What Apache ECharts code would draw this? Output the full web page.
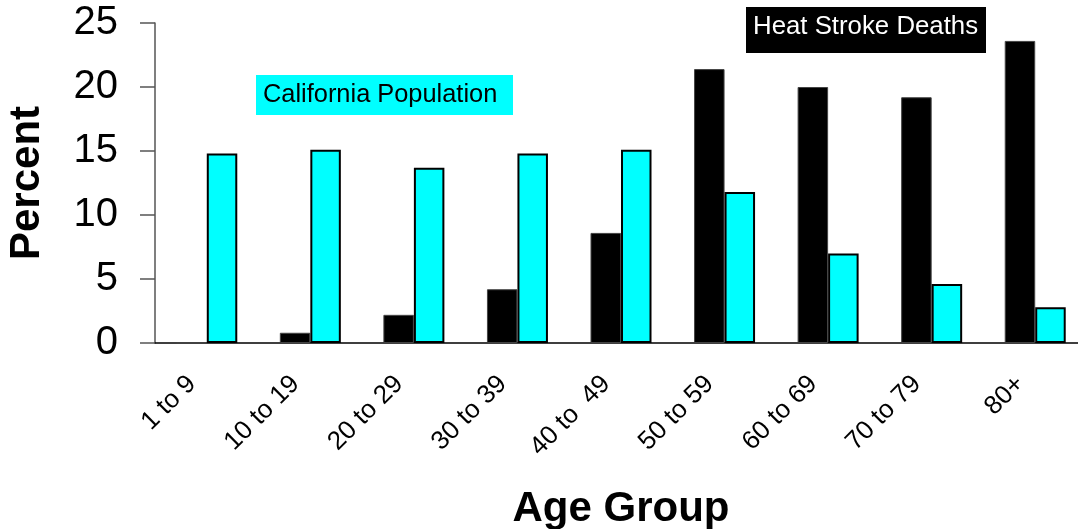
<!DOCTYPE html>
<html>
<head>
<meta charset="utf-8">
<script src="https://cdn.jsdelivr.net/npm/echarts@6/dist/echarts.min.js"></script>
<style>
  html, body { margin: 0; padding: 0; background: #fff; }
  #main { width: 1078px; height: 529px; }
</style>
</head>
<body>
<div id="main"></div>
<script>
var ageGroups = ['1 to 9', '10 to 19', '20 to 29', '30 to 39', '40 to  49', '50 to 59', '60 to 69', '70 to 79', '80+'];
// 中暑死亡
var heatStrokeDeaths = [0, 0.8, 2.2, 4.2, 8.6, 21.4, 20.0, 19.2, 23.6];
// 加州人口
var californiaPopulation = [14.8, 15.1, 13.7, 14.8, 15.1, 11.8, 7.0, 4.6, 2.8];
var yTicks = [0, 5, 10, 15, 20, 25];

var font = "'Liberation Sans', Arial, sans-serif";
var chart = echarts.init(document.getElementById('main'));

var option = {
	backgroundColor: '#fff',
	animation: false,
	grid: { left: 155, top: 23, width: 932, height: 320, containLabel: false, outerBoundsMode: 'none' },
	xAxis: {
		type: 'category',
		data: ageGroups,
		name: 'Age Group',
		nameLocation: 'middle',
		nameGap: 145,
		nameTextStyle: { fontFamily: font, fontSize: 42, fontWeight: 'bold', color: '#000' },
		axisLine: { lineStyle: { color: '#000', width: 1.5 } },
		axisTick: { length: 8, lineStyle: { color: '#666', width: 1.5 } },
		axisLabel: {
			rotate: 45,
			interval: 0,
			hideOverlap: false,
			margin: 22,
			padding: [0, 21, 0, 0],
			fontFamily: font,
			fontSize: 26,
			color: '#000'
		}
	},
	yAxis: {
		type: 'value',
		min: yTicks[0],
		max: yTicks[yTicks.length - 1],
		interval: 5,
		name: 'Percent',
		nameLocation: 'middle',
		nameRotate: 90,
		nameGap: 107,
		nameTextStyle: { fontFamily: font, fontSize: 42, fontWeight: 'bold', color: '#000' },
		axisLine: { show: true, lineStyle: { color: '#555', width: 1.5 } },
		axisTick: { show: true, length: 15, lineStyle: { color: '#555', width: 1.5 } },
		axisLabel: { margin: 37, fontFamily: font, fontSize: 40, color: '#000' },
		splitLine: { show: false }
	},
	series: [
		{
			name: 'Heat Stroke Deaths',
			type: 'bar',
			data: heatStrokeDeaths,
			barWidth: 30.5,
			barGap: '0%',
			itemStyle: { color: '#000', borderColor: '#444', borderWidth: 1 }
		},
		{
			name: 'California Population',
			type: 'bar',
			data: californiaPopulation,
			barWidth: 30.5,
			barGap: '0%',
			itemStyle: { color: '#00FFFF', borderColor: '#000', borderWidth: 2 }
		}
	],
	graphic: [
		{ type: 'rect', left: 746, top: 7, shape: { width: 240, height: 46 }, style: { fill: '#000' } },
		{ type: 'text', left: 753, top: 14, style: { text: 'Heat Stroke Deaths', fill: '#fff', font: '25.8px ' + font } },
		{ type: 'rect', left: 256, top: 75, shape: { width: 257, height: 40 }, style: { fill: '#00FFFF' } },
		{ type: 'text', left: 263, top: 82, style: { text: 'California Population', fill: '#000', font: '25.4px ' + font } }
	]
};

chart.setOption(option);
</script>
</body>
</html>
